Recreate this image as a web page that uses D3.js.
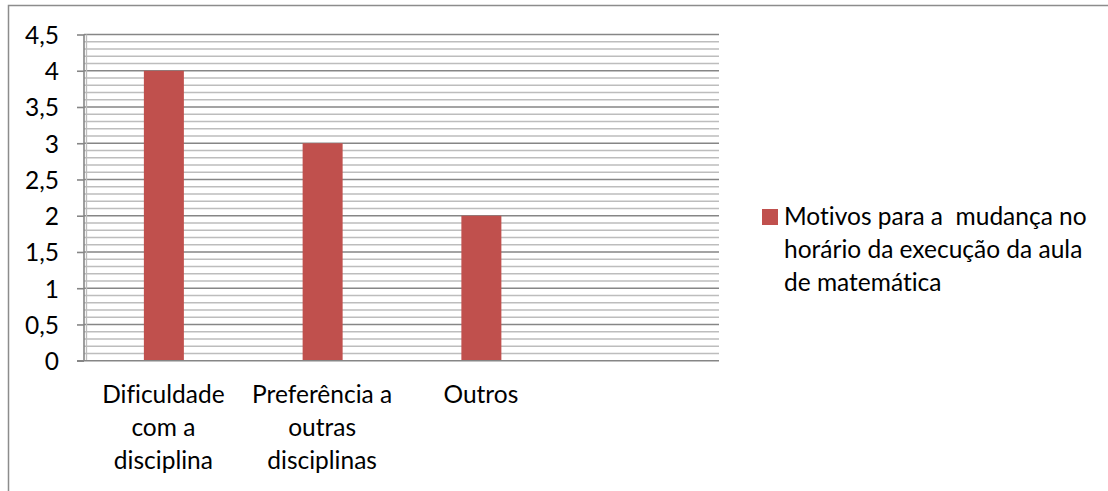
<!DOCTYPE html>
<html><head><meta charset="utf-8">
<script src="https://cdn.jsdelivr.net/npm/d3@7"></script>
<style>
html,body{margin:0;padding:0;background:#fff;}
svg text{font-family:Lato,"Open Sans",sans-serif;fill:#000;font-variant-ligatures:none;font-feature-settings:"liga" 0;}
</style></head>
<body><svg id="c" width="1108" height="491"></svg>
<script>
const categories = ["Dificuldade com a disciplina", "Preferência a outras disciplinas", "Outros", ""];
const values = [4, 3, 2, null];
const seriesName = "Motivos para a  mudança no horário da execução da aula de matemática";
const legendLines = ["Motivos para a  mudança no", "horário da execução da aula", "de matemática"];
const yTicks = [0, 0.5, 1, 1.5, 2, 2.5, 3, 3.5, 4, 4.5];
const yTickLabels = ["0", "0,5", "1", "1,5", "2", "2,5", "3", "3,5", "4", "4,5"];
const minorTicks = d3.range(0, 46).map(i => i / 10);

const svg = d3.select("#c");
const fs = 24.5;
// frame
svg.append("rect").attr("x", 8.5).attr("y", 5.5).attr("width", 1108).attr("height", 500)
  .attr("fill", "#fff").attr("stroke", "#8c8c8c").attr("stroke-width", 1.5);

const m = {l: 84, r: 719, t: 34.5, b: 360.7};
const x = d3.scaleBand().domain(d3.range(categories.length)).range([m.l, m.r]);
const y = d3.scaleLinear().domain([0, 4.5]).range([m.b, m.t]);

// minor grid
svg.append("g").selectAll("line").data(minorTicks.filter(v => Math.round(v * 10) % 5 !== 0)).join("line")
  .attr("x1", m.l).attr("x2", m.r).attr("y1", d => y(d)).attr("y2", d => y(d))
  .attr("stroke", "#bdbdbd").attr("stroke-width", 1.6);
// major grid
svg.append("g").selectAll("line").data(yTicks.filter(v => v > 0)).join("line")
  .attr("x1", m.l).attr("x2", m.r).attr("y1", d => y(d)).attr("y2", d => y(d))
  .attr("stroke", "#868686").attr("stroke-width", 1.6);
// inner vertical line near axis
svg.append("line").attr("x1", m.l + 2.5).attr("x2", m.l + 2.5).attr("y1", m.t).attr("y2", m.b)
  .attr("stroke", "#bdbdbd").attr("stroke-width", 1.3);

// bars
const bw = 40;
svg.append("g").selectAll("rect").data(values.map((v, i) => ({v, i})).filter(d => d.v != null)).join("rect")
  .attr("x", d => x(d.i) + x.bandwidth() / 2 - bw / 2 + 0.5)
  .attr("width", bw)
  .attr("y", d => y(d.v)).attr("height", d => y(0) - y(d.v))
  .attr("fill", "#c0504d");

// y axis
const ya = d3.axisLeft(y).tickValues(yTicks).tickFormat((d, i) => yTickLabels[i]).tickSize(7).tickPadding(18);
const gy = svg.append("g").attr("transform", `translate(${m.l},0)`).call(ya);
gy.select(".domain").attr("stroke", "#868686").attr("stroke-width", 1.6).attr("d", `M0,${m.t}V${m.b}`);
gy.selectAll(".tick line").attr("stroke", "#868686").attr("stroke-width", 1.6);
gy.selectAll(".tick text").style("font-size", fs + "px").attr("font-family", null).attr("fill", "#000").attr("dy", "0.36em");

// x axis baseline
svg.append("line").attr("x1", m.l - 7).attr("x2", m.r).attr("y1", m.b).attr("y2", m.b)
  .attr("stroke", "#868686").attr("stroke-width", 1.6);

// x labels with wrapping
const xl = svg.append("g");
const wrapW = 148;
categories.forEach((c, i) => {
  if (!c) return;
  const words = c.split(" ");
  const lines = [];
  let cur = "";
  const t = xl.append("text").style("font-size", fs + "px");
  words.forEach(w => {
    const test = cur ? cur + " " + w : w;
    t.text(test);
    if (t.node().getComputedTextLength() > wrapW && cur) { lines.push(cur); cur = w; }
    else cur = test;
  });
  lines.push(cur);
  t.text(null).attr("text-anchor", "middle");
  lines.forEach((ln, k) => {
    t.append("tspan").attr("x", x(i) + x.bandwidth() / 2).attr("y", 403 + k * 33).text(ln);
  });
});

// legend
svg.append("rect").attr("x", 762).attr("y", 209).attr("width", 16).attr("height", 16).attr("fill", "#c0504d");
const lt = svg.append("text").style("font-size", fs + "px").attr("xml:space", "preserve").style("white-space", "pre");
legendLines.forEach((ln, k) => lt.append("tspan").attr("x", 784).attr("y", 225 + k * 33).text(ln));
</script></body></html>
